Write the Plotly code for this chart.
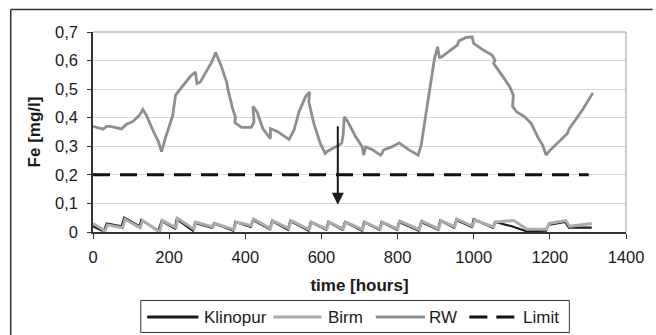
import plotly.graph_objects as go

# ---------------- data ----------------
rw_time = [0, 27, 36, 45, 75, 88, 105, 122, 131, 140, 157, 172, 180, 191, 209, 217, 230, 256, 269, 273,
           282, 312, 322, 336, 351, 355, 368, 374, 373, 390, 416, 423, 420, 431, 446, 466, 466, 485, 515,
           528, 541, 558, 569, 567, 580, 597, 610, 614, 640, 653, 657, 660, 668, 690, 707, 711, 716, 733,
           755, 759, 763, 785, 804, 828, 854, 862, 880, 897, 905, 910, 914, 940, 957, 961, 979, 996, 1000,
           1026, 1048, 1056, 1052, 1074, 1095, 1104, 1102, 1113, 1134, 1151, 1168, 1181, 1190, 1199, 1220,
           1246, 1251, 1285, 1313]
rw_fe = [0.370, 0.360, 0.370, 0.370, 0.361, 0.377, 0.387, 0.409, 0.429, 0.409, 0.357, 0.316, 0.281, 0.333,
         0.405, 0.479, 0.502, 0.545, 0.560, 0.520, 0.525, 0.595, 0.628, 0.584, 0.525, 0.496, 0.426, 0.403,
         0.382, 0.366, 0.366, 0.386, 0.440, 0.420, 0.362, 0.327, 0.362, 0.351, 0.324, 0.357, 0.420, 0.473,
         0.490, 0.455, 0.380, 0.310, 0.275, 0.281, 0.300, 0.310, 0.339, 0.403, 0.389, 0.333, 0.298, 0.269,
         0.298, 0.289, 0.269, 0.275, 0.287, 0.298, 0.312, 0.289, 0.269, 0.304, 0.461, 0.607, 0.648, 0.611,
         0.611, 0.636, 0.654, 0.669, 0.680, 0.683, 0.660, 0.636, 0.619, 0.601, 0.590, 0.549, 0.508, 0.479,
         0.440, 0.420, 0.403, 0.380, 0.333, 0.304, 0.269, 0.284, 0.310, 0.345, 0.362, 0.426, 0.487]

klinopur_time = [0, 28, 36, 75, 82, 122, 127, 172, 180, 215, 220, 262, 268, 312, 318, 368, 374, 414, 420,
                 464, 470, 512, 518, 566, 572, 612, 618, 655, 662, 706, 712, 752, 758, 798, 804, 855, 862,
                 906, 912, 948, 954, 995, 1000, 1050, 1056, 1100, 1140, 1190, 1196, 1240, 1250, 1310]
klinopur_fe = [0.020, 0.002, 0.030, 0.020, 0.050, 0.020, 0.042, 0.005, 0.038, 0.012, 0.045, 0.005, 0.032,
               0.015, 0.030, 0.005, 0.035, 0.018, 0.042, 0.010, 0.038, 0.008, 0.038, 0.005, 0.035, 0.008,
               0.035, 0.008, 0.035, 0.005, 0.035, 0.008, 0.035, 0.008, 0.035, 0.005, 0.035, 0.008, 0.040,
               0.015, 0.042, 0.018, 0.045, 0.015, 0.035, 0.020, 0.002, 0.005, 0.025, 0.035, 0.015, 0.015]

birm_time = [0, 25, 30, 38, 78, 84, 124, 130, 175, 182, 218, 222, 265, 270, 315, 320, 370, 376, 416, 422,
             466, 472, 514, 520, 568, 574, 614, 620, 657, 664, 708, 714, 754, 760, 800, 806, 857, 864, 908,
             914, 950, 956, 997, 1002, 1052, 1058, 1105, 1140, 1192, 1198, 1242, 1252, 1310]
birm_fe = [0.030, 0.010, 0.000, 0.025, 0.015, 0.045, 0.015, 0.040, 0.000, 0.040, 0.015, 0.048, 0.010,
           0.035, 0.018, 0.030, 0.008, 0.035, 0.022, 0.045, 0.012, 0.040, 0.012, 0.040, 0.008, 0.035, 0.010,
           0.035, 0.010, 0.035, 0.008, 0.035, 0.010, 0.035, 0.010, 0.038, 0.008, 0.038, 0.010, 0.040, 0.018,
           0.045, 0.020, 0.042, 0.018, 0.035, 0.040, 0.010, 0.010, 0.030, 0.040, 0.020, 0.030]

limit_time = [0, 1302]
limit_fe = [0.2, 0.2]

arrow_time = 643
arrow_from = 0.375
arrow_to = 0.095

y_ticks = [0, 0.1, 0.2, 0.3, 0.4, 0.5, 0.6, 0.7]
y_ticklabels = ["0", "0,1", "0,2", "0,3", "0,4", "0,5", "0,6", "0,7"]
x_ticks = [0, 200, 400, 600, 800, 1000, 1200, 1400]

series_names = ["Klinopur", "Birm", "RW", "Limit"]
series_colors = ["#1a1a1a", "#ababab", "#8e8e8e", "#111111"]

# ---------------- figure ----------------
FONT = "Liberation Sans, Arial, sans-serif"
W, H = 656, 335
ML, MR, MT, MB = 93, 22, 32, 103
pw, ph = W - ML - MR, H - MT - MB
LIMIT_DASH = "17px,10px"


def px2paper_x(px):
    return (px - ML) / pw


def py2paper_y(py):
    return (H - MB - py) / ph


fig = go.Figure()
fig.add_trace(go.Scatter(x=klinopur_time, y=klinopur_fe, mode="lines", name=series_names[0],
                         line=dict(color=series_colors[0], width=2.2)))
fig.add_trace(go.Scatter(x=birm_time, y=birm_fe, mode="lines", name=series_names[1],
                         line=dict(color=series_colors[1], width=3)))
fig.add_trace(go.Scatter(x=rw_time, y=rw_fe, mode="lines", name=series_names[2],
                         line=dict(color=series_colors[2], width=2.8)))
fig.add_trace(go.Scatter(x=limit_time, y=limit_fe, mode="lines", name=series_names[3],
                         line=dict(color=series_colors[3], width=3, dash=LIMIT_DASH)))

fig.add_annotation(x=arrow_time, y=arrow_to, ax=arrow_time, ay=arrow_from, xref="x", yref="y",
                   axref="x", ayref="y", text="", showarrow=True, arrowhead=2, arrowsize=1.2,
                   arrowwidth=2, arrowcolor="#1a1a1a")

shapes = [
    # plot-area border (top, right)
    dict(type="line", xref="paper", yref="paper", x0=0, x1=1, y0=1, y1=1,
         line=dict(color="#9a9a9a", width=1)),
    dict(type="line", xref="paper", yref="paper", x0=1, x1=1, y0=0, y1=1,
         line=dict(color="#9a9a9a", width=1)),
    # outer frame
    dict(type="line", xref="paper", yref="paper", x0=px2paper_x(9.5), x1=px2paper_x(W + 5),
         y0=py2paper_y(9.5), y1=py2paper_y(9.5), line=dict(color="#333333", width=1.5)),
    dict(type="line", xref="paper", yref="paper", x0=px2paper_x(9.5), x1=px2paper_x(9.5),
         y0=py2paper_y(9.5), y1=py2paper_y(H + 5), line=dict(color="#333333", width=1.5)),
    # legend box
    dict(type="rect", xref="paper", yref="paper", x0=px2paper_x(141.5), x1=px2paper_x(576.5),
         y0=py2paper_y(300.5), y1=py2paper_y(332.5), line=dict(color="#333333", width=1),
         fillcolor="white"),
]

# legend entries: (sample line start, sample line end, text left)
legend_pos = [(148, 200, 204), (276, 325, 329), (380, 430, 432), (475, 522, 527)]
legend_y = 317
annotations = []
for i, (x0, x1, tx) in enumerate(legend_pos):
    is_dash = series_names[i] == "Limit"
    shapes.append(dict(type="line", xref="paper", yref="paper", x0=px2paper_x(x0), x1=px2paper_x(x1),
                       y0=py2paper_y(legend_y), y1=py2paper_y(legend_y),
                       line=dict(color=series_colors[i], width=3,
                                 dash="18px,9px" if is_dash else "solid")))
    annotations.append(dict(xref="paper", yref="paper", x=px2paper_x(tx), y=py2paper_y(legend_y),
                            xanchor="left", yanchor="middle", showarrow=False, text=series_names[i],
                            font=dict(family=FONT, size=17, color="#1a1a1a")))

fig.update_layout(
    width=W, height=H, margin=dict(l=ML, r=MR, t=MT, b=MB),
    paper_bgcolor="white", plot_bgcolor="white",
    font=dict(family=FONT, size=16, color="#1a1a1a"),
    shapes=shapes,
    annotations=list(fig.layout.annotations) + annotations,
    showlegend=False,
    xaxis=dict(range=[0, 1400], tickvals=x_ticks, ticks="outside", ticklen=5, tickwidth=1,
               tickcolor="#333333", showline=True, linecolor="#333333", linewidth=1.5,
               showgrid=False, zeroline=False, ticklabelstandoff=4,
               tickfont=dict(size=16.5),
               title=dict(text="<b>time [hours]</b>", font=dict(size=17), standoff=15)),
    yaxis=dict(range=[0, 0.7], tickvals=y_ticks, ticktext=y_ticklabels, ticks="outside",
               ticklen=4, tickwidth=1, tickcolor="#333333", showline=True, linecolor="#333333",
               linewidth=1.5, showgrid=True, gridcolor="#d9d9d9", gridwidth=1, zeroline=False,
               ticklabelstandoff=6,
               tickfont=dict(size=16.5),
               title=dict(text="<b>Fe [mg/l]</b>", font=dict(size=17), standoff=10)),
)

fig.write_html("out.html", config={"displayModeBar": False},
               post_script="document.body.style.margin='0';")
